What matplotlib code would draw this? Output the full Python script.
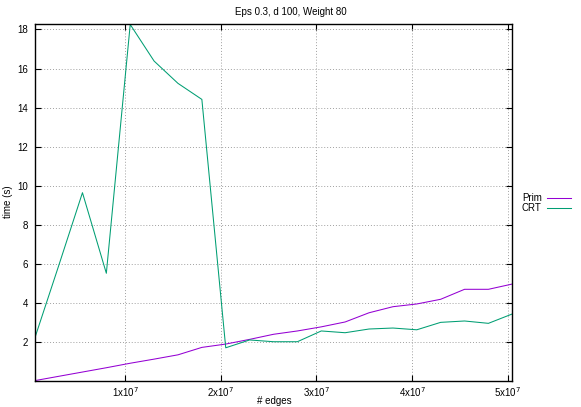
import matplotlib
matplotlib.use("Agg")
import matplotlib.pyplot as plt
from matplotlib.lines import Line2D
import numpy as np

plt.rcParams['font.family'] = ['Liberation Sans', 'DejaVu Sans']

edges = [5e5 + k * 2.5e6 for k in range(21)]
prim = [0.04, 0.26, 0.48, 0.70, 0.93, 1.14, 1.36, 1.74, 1.91, 2.15, 2.41,
        2.58, 2.79, 3.04, 3.51, 3.82, 3.96, 4.20, 4.71, 4.71, 4.98]
crt = [2.2, 5.9, 9.65, 5.53, 18.25, 16.38, 15.24, 14.42, 1.72, 2.12, 2.03,
       2.03, 2.58, 2.49, 2.68, 2.73, 2.64, 3.02, 3.09, 2.97, 3.45]
series_names = ["Prim", "CRT"]
series_colors = ["#9400d3", "#009e73"]
yticks = [2, 4, 6, 8, 10, 12, 14, 16, 18]
xticks = [1e7, 2e7, 3e7, 4e7, 5e7]
xticklabels = [r"1x10$^{7}$", r"2x10$^{7}$", r"3x10$^{7}$", r"4x10$^{7}$", r"5x10$^{7}$"]
title = "Eps 0.3, d 100, Weight 80"

W, H = 581, 407
fig = plt.figure(figsize=(W / 100, H / 100), dpi=100)
ax = fig.add_axes([34.7 / W, 1 - 380.7 / H, (512.3 - 34.7) / W, (380.7 - 24.3) / H])

for vals, name, col in zip([prim, crt], series_names, series_colors):
    ax.plot(edges, vals, color=col, lw=0.75, label=name)

ax.set_xlim(min(edges), max(edges))
ax.set_ylim(0.037, 18.26)
ax.set_xticks(xticks)
ax.set_xticklabels(xticklabels)
ax.set_yticks(yticks)
ax.grid(True, color="#a0a0a0", linestyle=(0, (1, 2)), lw=0.7)
ax.tick_params(direction="in", length=4, width=0.8, labelsize=7, top=True, right=True)
ax.tick_params(axis="x", pad=3)
ax.tick_params(axis="y", pad=5)
for sp in ax.spines.values():
    sp.set_linewidth(1.0)

fig.text(274 / W, 1 - 401 / H, "# edges", ha="center", va="center", fontsize=7)
fig.text(8 / W, 1 - 202 / H, "time (s)", ha="center", va="center", fontsize=7, rotation=90)
fig.text(0.5, 1 - 12 / H, title, ha="center", va="center", fontsize=7)

# legend
for i, (name, col) in enumerate(zip(series_names, series_colors)):
    y = 1 - (198.3 + i * 9.5) / H
    fig.text(541.7 / W, y, name, ha="right", va="center", fontsize=7)
    fig.add_artist(Line2D([546.7 / W, 571 / W], [y, y], color=col, lw=0.75,
                          transform=fig.transFigure))

fig.savefig("out.png", dpi=100)
